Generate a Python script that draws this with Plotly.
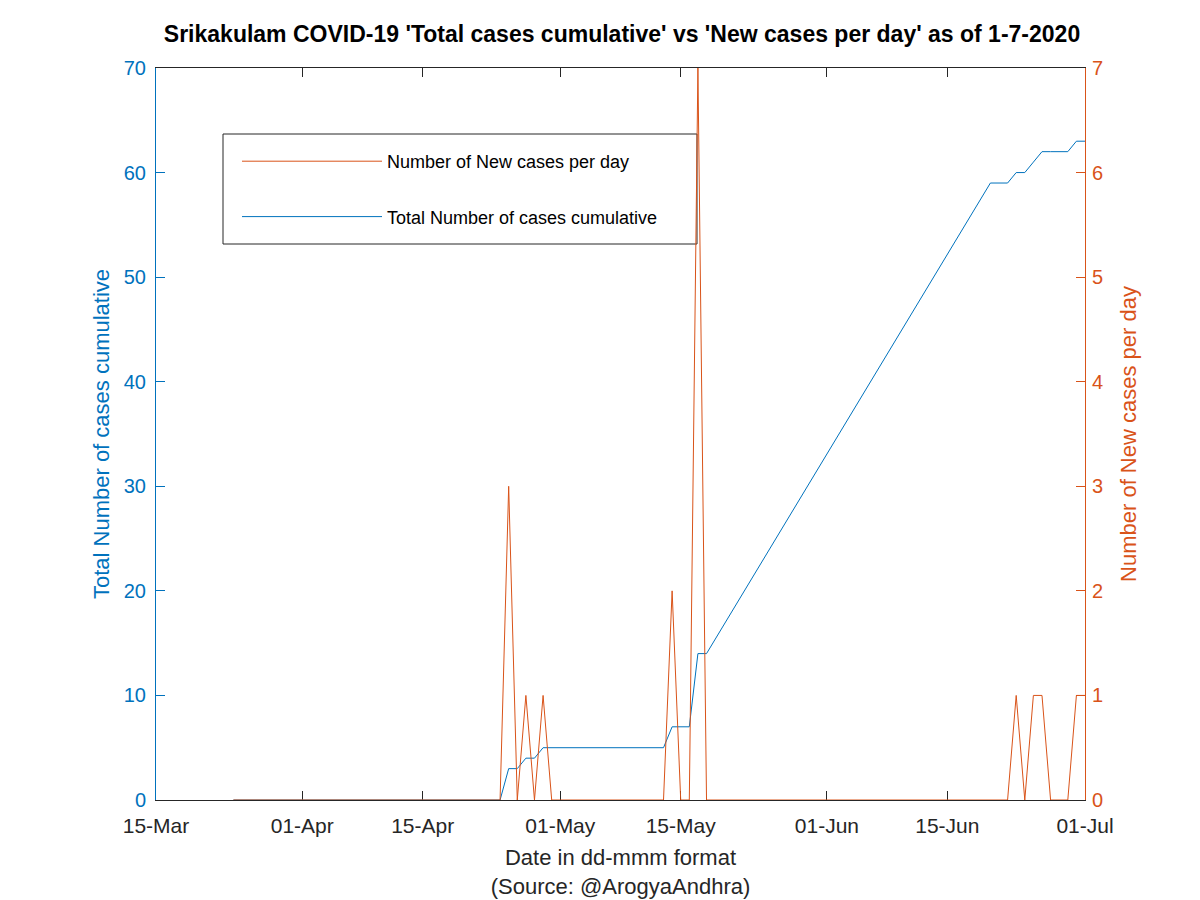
import pandas as pd
import plotly.graph_objects as go

# ---- data ----
new_dates = pd.date_range("2020-03-24", "2020-07-01", freq="D")
new_cases = [0, 0, 0, 0, 0, 0, 0, 0, 0, 0, 0, 0, 0, 0, 0, 0,
             0, 0, 0, 0, 0, 0, 0, 0, 0, 0, 0, 0, 0, 0, 0, 0,
             3, 0, 1, 0, 1,
             0, 0, 0, 0, 0, 0, 0, 0, 0, 0, 0, 0, 0, 0,
             2, 0, 0, 7,
             0, 0, 0, 0, 0, 0, 0, 0, 0, 0, 0, 0, 0, 0, 0, 0, 0, 0,
             0, 0, 0, 0, 0, 0, 0, 0, 0, 0, 0, 0, 0, 0, 0, 0, 0, 0,
             1, 0, 1, 1, 0, 0, 0, 1, 1]

total_dates = list(pd.date_range("2020-03-24", "2020-05-18", freq="D")) + \
              list(pd.date_range("2020-06-20", "2020-07-01", freq="D"))
total_cases = [0, 0, 0, 0, 0, 0, 0, 0, 0, 0, 0, 0, 0, 0, 0, 0,
               0, 0, 0, 0, 0, 0, 0, 0, 0, 0, 0, 0, 0, 0, 0, 0,
               3, 3, 4, 4,
               5, 5, 5, 5, 5, 5, 5, 5, 5, 5, 5, 5, 5, 5, 5,
               7, 7, 7, 14, 14,
               59, 59, 59, 60, 60, 61, 62, 62, 62, 62, 63, 63]

tick_vals = ["2020-03-15", "2020-04-01", "2020-04-15", "2020-05-01",
             "2020-05-15", "2020-06-01", "2020-06-15", "2020-07-01"]
tick_text = ["15-Mar", "01-Apr", "15-Apr", "01-May",
             "15-May", "01-Jun", "15-Jun", "01-Jul"]

BLUE = "#0072BD"
ORANGE = "#D95319"
DARK = "#262626"
FONT = "Liberation Sans, Arial, sans-serif"

# plot area in figure pixels (page has an 8px body margin)
ML, MR, MT, MB = 148, 123, 60, 108
PW, PH = 1200 - ML - MR, 900 - MT - MB


def px_x(x):
    return (x - 8 - ML) / PW


def px_y(y):
    return (900 - MB - (y - 8)) / PH


fig = go.Figure()
fig.add_trace(go.Scatter(x=total_dates, y=total_cases, mode="lines",
                         line=dict(color=BLUE, width=1),
                         name="Total Number of cases cumulative",
                         legendgroup="b", legendrank=2, yaxis="y"))
fig.add_trace(go.Scatter(x=new_dates, y=new_cases, mode="lines",
                         line=dict(color=ORANGE, width=1),
                         name="Number of New cases per day",
                         legendgroup="a", legendrank=1, yaxis="y2"))

# legend frame
fig.add_shape(type="rect", xref="paper", yref="paper",
              x0=px_x(223), x1=px_x(697), y0=px_y(244), y1=px_y(134),
              line=dict(color=DARK, width=1), fillcolor="white", layer="below")

fig.update_layout(
    width=1200, height=900,
    paper_bgcolor="white", plot_bgcolor="white",
    margin=dict(l=ML, r=MR, t=MT, b=MB),
    font=dict(family=FONT, size=18, color=DARK),
    title=dict(text="<b>Srikakulam COVID-19 'Total cases cumulative' vs 'New cases per day' as of 1-7-2020</b>",
               x=614 / 1200, xanchor="center", y=1 - 26 / 900, yanchor="middle",
               font=dict(family=FONT, size=23, color="black")),
    xaxis=dict(type="date", range=["2020-03-15", "2020-07-01"],
               tickmode="array", tickvals=tick_vals, ticktext=tick_text,
               ticks="inside", ticklen=9, tickcolor=DARK,
               showline=True, linecolor=DARK, linewidth=1,
               mirror="ticks", showgrid=False, zeroline=False,
               layer="below traces", ticklabelstandoff=7,
               tickfont=dict(size=21, color=DARK),
               title=dict(text="Date in dd-mmm format<br>(Source: @ArogyaAndhra)",
                          font=dict(size=22, color=DARK), standoff=13)),
    yaxis=dict(range=[0, 70], dtick=10, ticks="inside", ticklen=9,
               tickcolor=BLUE, showline=True, linecolor=BLUE, linewidth=1,
               showgrid=False, zeroline=False, layer="below traces",
               ticklabelstandoff=5,
               tickfont=dict(size=20, color=BLUE),
               title=dict(text="Total Number of cases cumulative",
                          font=dict(size=22, color=BLUE), standoff=8)),
    yaxis2=dict(range=[0, 7], dtick=1, overlaying="y", side="right",
                ticks="inside", ticklen=9, tickcolor=ORANGE,
                showline=True, linecolor=ORANGE, linewidth=1,
                showgrid=False, zeroline=False, layer="below traces",
                ticklabelstandoff=2,
                tickfont=dict(size=20, color=ORANGE),
                title=dict(text="Number of New cases per day",
                           font=dict(size=22, color=ORANGE), standoff=18)),
    legend=dict(x=px_x(237), y=px_y(143),
                xanchor="left", yanchor="top",
                traceorder="grouped", tracegroupgap=29,
                bgcolor="rgba(0,0,0,0)", borderwidth=0,
                font=dict(size=18, color="black"), itemwidth=140),
    showlegend=True,
)

fig.write_html("out.html")
